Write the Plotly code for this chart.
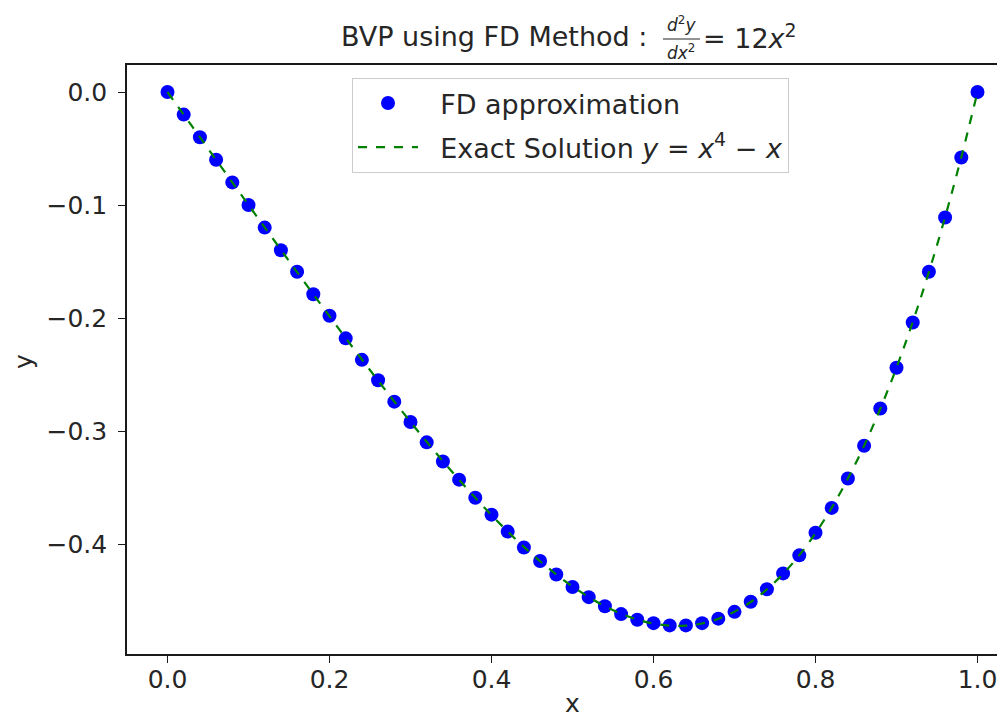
import plotly.graph_objects as go

x_vals = [0.00, 0.02, 0.04, 0.06, 0.08, 0.10, 0.12, 0.14, 0.16, 0.18,
          0.20, 0.22, 0.24, 0.26, 0.28, 0.30, 0.32, 0.34, 0.36, 0.38,
          0.40, 0.42, 0.44, 0.46, 0.48, 0.50, 0.52, 0.54, 0.56, 0.58,
          0.60, 0.62, 0.64, 0.66, 0.68, 0.70, 0.72, 0.74, 0.76, 0.78,
          0.80, 0.82, 0.84, 0.86, 0.88, 0.90, 0.92, 0.94, 0.96, 0.98, 1.00]

fd_y = [0.000, -0.020, -0.040, -0.060, -0.080, -0.100, -0.120, -0.140, -0.159, -0.179,
        -0.198, -0.218, -0.237, -0.255, -0.274, -0.292, -0.310, -0.327, -0.343, -0.359,
        -0.374, -0.389, -0.403, -0.415, -0.427, -0.438, -0.447, -0.455, -0.462, -0.467,
        -0.470, -0.472, -0.472, -0.470, -0.466, -0.460, -0.451, -0.440, -0.426, -0.410,
        -0.390, -0.368, -0.342, -0.313, -0.280, -0.244, -0.204, -0.159, -0.111, -0.058, 0.000]

exact_y = [0.0000, -0.0200, -0.0400, -0.0600, -0.0800, -0.0999, -0.1198, -0.1396, -0.1593, -0.1790,
           -0.1984, -0.2177, -0.2367, -0.2554, -0.2739, -0.2919, -0.3095, -0.3266, -0.3432, -0.3591,
           -0.3744, -0.3889, -0.4025, -0.4152, -0.4269, -0.4375, -0.4469, -0.4550, -0.4617, -0.4668,
           -0.4704, -0.4722, -0.4722, -0.4703, -0.4662, -0.4599, -0.4513, -0.4401, -0.4264, -0.4098,
           -0.3904, -0.3679, -0.3421, -0.3130, -0.2803, -0.2439, -0.2036, -0.1593, -0.1107, -0.0576, 0.0000]

x_ticks = [0.0, 0.2, 0.4, 0.6, 0.8, 1.0]
x_tick_labels = ["0.0", "0.2", "0.4", "0.6", "0.8", "1.0"]
y_ticks = [0.0, -0.1, -0.2, -0.3, -0.4]
y_tick_labels = ["0.0", "\u22120.1", "\u22120.2", "\u22120.3", "\u22120.4"]

FONT = "DejaVu Sans"
TXT = "#262626"
AX = "#1a1a1a"

# page pixel -> paper coords (page has 8px body offset; plot area page x 127..1005, y 65..654)
def px(X):
    return (X - 127) / 878.0

def py(Y):
    return (654 - Y) / 589.0

PAD = "\u00a0\u00a0"

fig = go.Figure()
fig.add_trace(go.Scatter(
    x=x_vals, y=fd_y, mode="markers", name=PAD + "FD approximation", legendgroup="fd",
    marker=dict(color="#0000ff", size=14, line=dict(width=0)),
))
fig.add_trace(go.Scatter(
    x=x_vals, y=exact_y, mode="lines", legendgroup="exact",
    name=PAD + "Exact Solution <i>y</i> = <i>x</i><sup>4</sup> \u2212 <i>x</i>",
    line=dict(color="#008000", width=2.2, dash="dash", shape="spline"),
))

ann_font = dict(family=FONT, size=27, color=TXT)
frac_font = dict(family=FONT, size=17, color=TXT)
lab_font = dict(family=FONT, size=25, color=TXT)

fig.update_layout(
    width=997, height=714,
    margin=dict(l=119, r=0, t=57, b=68, autoexpand=False),
    paper_bgcolor="white", plot_bgcolor="white",
    font=dict(family=FONT, size=25, color=TXT),
    showlegend=True,
    legend=dict(
        x=px(352), y=py(78), xanchor="left", yanchor="top",
        bgcolor="rgba(255,255,255,0.8)", bordercolor="#cccccc", borderwidth=1,
        font=dict(family=FONT, size=27, color=TXT),
        traceorder="grouped", itemwidth=60, tracegroupgap=6,
    ),
    xaxis=dict(
        range=[-0.05, -0.05 + 878 / 810],
        tickvals=x_ticks, ticktext=x_tick_labels,
        ticks="outside", ticklen=7, tickwidth=1.4, tickcolor=AX,
        ticklabelstandoff=-5,
        tickfont=dict(family=FONT, size=25, color=TXT),
        showgrid=False, zeroline=False,
        showline=True, linecolor=AX, linewidth=1.6, mirror=True,
    ),
    yaxis=dict(
        range=[-0.4973, 0.0239],
        tickvals=y_ticks, ticktext=y_tick_labels,
        ticks="outside", ticklen=7, tickwidth=1.4, tickcolor=AX,
        ticklabelstandoff=6,
        tickfont=dict(family=FONT, size=25, color=TXT),
        showgrid=False, zeroline=False,
        showline=True, linecolor=AX, linewidth=1.6, mirror=False,
    ),
    annotations=[
        dict(text="BVP using FD Method :", x=px(649), y=py(36), xref="paper", yref="paper",
             xanchor="right", yanchor="middle", showarrow=False, font=ann_font),
        dict(text="<i>d</i><sup>2</sup><i>y</i>", x=px(681), y=py(24), xref="paper", yref="paper",
             xanchor="center", yanchor="middle", showarrow=False, font=frac_font),
        dict(text="<i>dx</i><sup>2</sup>", x=px(681), y=py(52), xref="paper", yref="paper",
             xanchor="center", yanchor="middle", showarrow=False, font=frac_font),
        dict(text="= 12<i>x</i><sup>2</sup>", x=px(701), y=py(36), xref="paper", yref="paper",
             xanchor="left", yanchor="middle", showarrow=False, font=ann_font),
        dict(text="x", x=px(572), y=py(703), xref="paper", yref="paper",
             xanchor="center", yanchor="middle", showarrow=False, font=lab_font),
        dict(text="y", x=px(23), y=py(362), xref="paper", yref="paper",
             xanchor="center", yanchor="middle", showarrow=False, textangle=-90, font=lab_font),
    ],
    shapes=[
        dict(type="line", xref="paper", yref="paper",
             x0=px(663), x1=px(700), y0=py(39), y1=py(39),
             line=dict(color=TXT, width=1.2)),
    ],
)

fig.write_html("out.html")
